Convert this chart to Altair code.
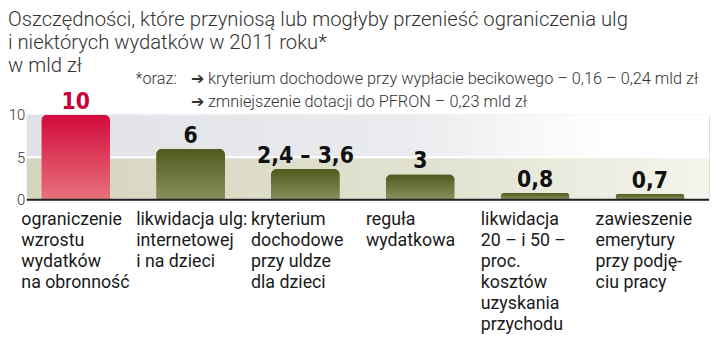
import altair as alt
import pandas as pd

# ---- data ----
categories = [
    "ograniczenie\nwzrostu\nwydatków\nna obronność",
    "likwidacja ulg:\ninternetowej\ni na dzieci",
    "kryterium\ndochodowe\nprzy uldze\ndla dzieci",
    "reguła\nwydatkowa",
    "likwidacja\n20 – i 50 –\nproc.\nkosztów\nuzyskania\nprzychodu",
    "zawieszenie\nemerytury\nprzy podję-\nciu pracy",
]
values = [10, 6, 3.6, 3, 0.8, 0.7]
value_labels = ["10", "6", "2,4 – 3,6", "3", "0,8", "0,7"]
highlight = [True, False, False, False, False, False]

y_ticks = [0, 5, 10]
band_lo = [5, 0]
band_hi = [10, 5]
band_name = ["upper", "lower"]

title_lines = [
    "Oszczędności, które przyniosą lub mogłyby przenieść ograniczenia ulg",
    "i niektórych wydatków w 2011 roku*",
    "w mld zł",
]
note_head = "*oraz:"
note_lines = [
    "➔ kryterium dochodowe przy wypłacie becikowego  – 0,16 – 0,24 mld zł",
    "➔ zmniejszenie dotacji do PFRON – 0,23 mld zł",
]

df = pd.DataFrame({"cat": categories, "value": values, "label": value_labels, "hl": highlight})
bands = pd.DataFrame({"lo": band_lo, "hi": band_hi, "name": band_name})

W, H = 690, 86
LIGHT = "Roboto"
COND = "Liberation Sans Narrow, DejaVu Sans Condensed, Roboto"

yscale = alt.Scale(domain=[0, 10], nice=False)
xenc = alt.X("cat:N", sort=categories, axis=None,
             scale=alt.Scale(paddingInner=0.4, paddingOuter=0.17, align=0.37))

def hgrad(stops):
    return alt.Gradient(gradient="linear", x1=0, x2=1, y1=0, y2=0,
                        stops=[alt.GradientStop(color=c, offset=o) for o, c in stops])

def vgrad(stops):
    return alt.Gradient(gradient="linear", x1=0, x2=0, y1=0, y2=1,
                        stops=[alt.GradientStop(color=c, offset=o) for o, c in stops])

base_bands = alt.Chart(bands)
upper = base_bands.transform_filter("datum.name == 'upper'").mark_rect(
    color=hgrad([(0, "#e1e2e7"), (0.55, "#eaebee"), (0.85, "#ffffff"), (1, "#ffffff")])
).encode(
    x=alt.value(0), x2=alt.value(W),
    y=alt.Y("lo:Q", scale=yscale,
            axis=alt.Axis(values=y_ticks, ticks=False, domain=False, grid=False,
                          labelPadding=2, labelFont=LIGHT, labelFontWeight=300,
                          labelFontSize=15, labelColor="#333", title=None)),
    y2="hi:Q",
)
lower = base_bands.transform_filter("datum.name == 'lower'").mark_rect(
    color=hgrad([(0, "#d5d5bf"), (0.6, "#e2e2d2"), (1, "#f4f4ec")])
).encode(x=alt.value(0), x2=alt.value(W), y=alt.Y("lo:Q", scale=yscale), y2="hi:Q")

mid_rule = alt.Chart(pd.DataFrame({"y": [y_ticks[1]]})).mark_rule(
    color="white", strokeWidth=2
).encode(y=alt.Y("y:Q", scale=yscale), x=alt.value(0), x2=alt.value(W))

base_rule = alt.Chart(pd.DataFrame({"y": [y_ticks[0]]})).mark_rule(
    color="#222", strokeWidth=2
).encode(y=alt.Y("y:Q", scale=yscale), x=alt.value(0), x2=alt.value(W))

bars_red = alt.Chart(df).transform_filter("datum.hl").mark_bar(
    color=vgrad([(0, "#d20a3c"), (1, "#e7737c")]), cornerRadiusTopLeft=6, cornerRadiusTopRight=6
).encode(x=xenc, y=alt.Y("value:Q", scale=yscale))

bars_olive = alt.Chart(df).transform_filter("!datum.hl").mark_bar(
    color=vgrad([(0, "#4f5a1d"), (1, "#8b905e")]), cornerRadiusTopLeft=6, cornerRadiusTopRight=6
).encode(x=xenc, y=alt.Y("value:Q", scale=yscale))

value_text = alt.Chart(df).mark_text(
    baseline="alphabetic", dy=-6, font=COND, fontWeight="bold", fontSize=23
).encode(
    x=xenc, y=alt.Y("value:Q", scale=yscale), text="label:N",
    color=alt.condition("datum.hl", alt.value("#cc0033"), alt.value("#111111")),
)

cat_text = alt.Chart(df).mark_text(
    align="left", baseline="alphabetic", dx=-55, lineBreak="\n", lineHeight=21.2,
    font="Roboto", fontSize=18, color="#1a1a1a"
).encode(x=xenc, y=alt.value(112), text="cat:N")

title_text = alt.Chart(pd.DataFrame({"t": ["\n".join(title_lines)]})).mark_text(
    align="left", baseline="alphabetic", lineBreak="\n", lineHeight=23.5,
    font=LIGHT, fontWeight=300, fontSize=20.5, color="#333"
).encode(x=alt.value(-19), y=alt.value(-90), text="t:N")

note_head_text = alt.Chart(pd.DataFrame({"t": [note_head]})).mark_text(
    align="left", baseline="alphabetic", font=LIGHT, fontWeight=300, fontSize=16.5, color="#333"
).encode(x=alt.value(110), y=alt.value(-31), text="t:N")

note_text = alt.Chart(pd.DataFrame({"t": ["\n".join(note_lines)]})).mark_text(
    align="left", baseline="alphabetic", lineBreak="\n", lineHeight=23,
    font=LIGHT, fontWeight=300, fontSize=16.5, color="#333"
).encode(x=alt.value(166), y=alt.value(-31), text="t:N")

chart = alt.layer(
    upper, lower, mid_rule, bars_red, bars_olive, base_rule,
    value_text, cat_text, title_text, note_head_text, note_text
).properties(
    width=W, height=H,
    autosize=alt.AutoSizeParams(type="none"),
    padding={"left": 19, "top": 106, "right": 3, "bottom": 140},
).configure_view(stroke=None).configure(background="white")

chart.save("out.html", embed_options={"renderer": "svg", "actions": False})
